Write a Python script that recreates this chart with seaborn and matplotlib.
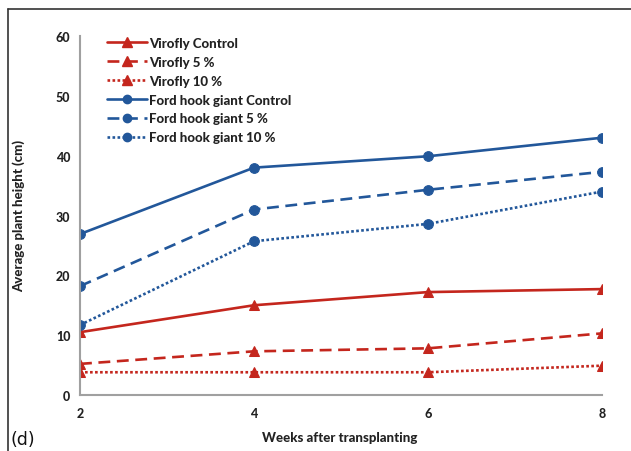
import matplotlib
matplotlib.use("Agg")
import matplotlib.pyplot as plt
import seaborn as sns
import pandas as pd
from matplotlib.lines import Line2D

weeks = [2, 4, 6, 8]
series_names = ["Virofly Control", "Virofly 5 %", "Virofly 10 %",
                "Ford hook giant Control", "Ford hook giant 5 %", "Ford hook giant 10 %"]
virofly_control = [10.5, 15.0, 17.2, 17.7]
virofly_5 = [5.2, 7.3, 7.8, 10.3]
virofly_10 = [3.8, 3.8, 3.8, 4.9]
ford_control = [26.9, 38.0, 39.9, 43.0]
ford_5 = [18.2, 31.0, 34.3, 37.3]
ford_10 = [11.7, 25.7, 28.6, 34.0]
values = [virofly_control, virofly_5, virofly_10, ford_control, ford_5, ford_10]
y_ticks = [0, 10, 20, 30, 40, 50, 60]

RED = "#C4261D"
BLUE = "#22579A"
styles = {
    "Virofly Control": (RED, "-", "^"),
    "Virofly 5 %": (RED, (0, (4.5, 2.5)), "^"),
    "Virofly 10 %": (RED, (0, (1, 0.9)), "^"),
    "Ford hook giant Control": (BLUE, "-", "o"),
    "Ford hook giant 5 %": (BLUE, (0, (4.5, 2.5)), "o"),
    "Ford hook giant 10 %": (BLUE, (0, (1, 0.9)), "o"),
}

rows = []
for name, vals in zip(series_names, values):
    for w, v in zip(weeks, vals):
        rows.append({"week": w, "height": v, "series": name})
df = pd.DataFrame(rows)

sns.set_style("white")
plt.rcParams["font.family"] = ["Lato", "DejaVu Sans"]
W = 900

fig = plt.figure(figsize=(6.31, 4.52), dpi=100)
ax = fig.add_axes([80 / 631, 1 - 396 / 452, (602 - 80) / 631, (396 - 37) / 452])

handles = []
for name in series_names:
    color, ls, mk = styles[name]
    sub = df[df["series"] == name]
    ms = 7 if mk == "o" else 7.5
    sns.lineplot(data=sub, x="week", y="height", ax=ax, color=color,
                 linestyle=ls, linewidth=1.9, marker=mk, markersize=ms,
                 markeredgecolor=color, markerfacecolor=color, legend=False)
    handles.append(Line2D([0], [0], color=color, linestyle=ls, linewidth=1.9,
                          marker=mk, markersize=ms - 1, markerfacecolor=color,
                          markeredgecolor=color))

ax.set_xlim(2, 8)
ax.set_ylim(0, 60)
ax.set_xticks(weeks)
ax.set_yticks(y_ticks)
ax.set_xticklabels([str(w) for w in weeks], fontweight=W, fontsize=9, color="#222222")
ax.set_yticklabels([str(t) for t in y_ticks], fontweight=W, fontsize=9, color="#222222")
ax.tick_params(axis="both", direction="out", length=3, width=1, color="#9a9a9a", pad=4)
ax.tick_params(axis="x", pad=6)
for s in ["top", "right"]:
    ax.spines[s].set_visible(False)
for s in ["left", "bottom"]:
    ax.spines[s].set_color("#a0a0a0")
    ax.spines[s].set_linewidth(1.5)
ax.set_xlabel("")
ax.set_ylabel("")

fig.text(340 / 631, 1 - 438 / 452, "Weeks after transplanting", ha="center", va="center",
         fontsize=9.5, fontweight=W, color="#222222")
fig.text(19 / 631, 1 - 216 / 452, "Average plant height (cm)", ha="center", va="center",
         rotation=90, fontsize=9.5, fontweight=W, color="#222222")
fig.text(10 / 631, 1 - 440 / 452, "(d)", ha="left", va="center", fontsize=12.5,
         color="#111111", family=["DejaVu Sans"])

leg = ax.legend(handles, series_names, loc="upper left",
                bbox_to_anchor=(107 / 631, 1 - 38 / 452), bbox_transform=fig.transFigure,
                frameon=False, handlelength=3.0, handletextpad=0.2, labelspacing=0.52,
                prop={"weight": W, "size": 9.5}, borderaxespad=0, borderpad=0)
for t in leg.get_texts():
    t.set_color("#222222")

# outer frame (left and top edges of panel border)
fig.add_artist(Line2D([8 / 631, 8 / 631], [0, 1 - 10 / 452], transform=fig.transFigure,
                      color="#333333", linewidth=1.2))
fig.add_artist(Line2D([8 / 631, 1], [1 - 10 / 452, 1 - 10 / 452], transform=fig.transFigure,
                      color="#333333", linewidth=1.2))

fig.savefig("out.png", dpi=100)
